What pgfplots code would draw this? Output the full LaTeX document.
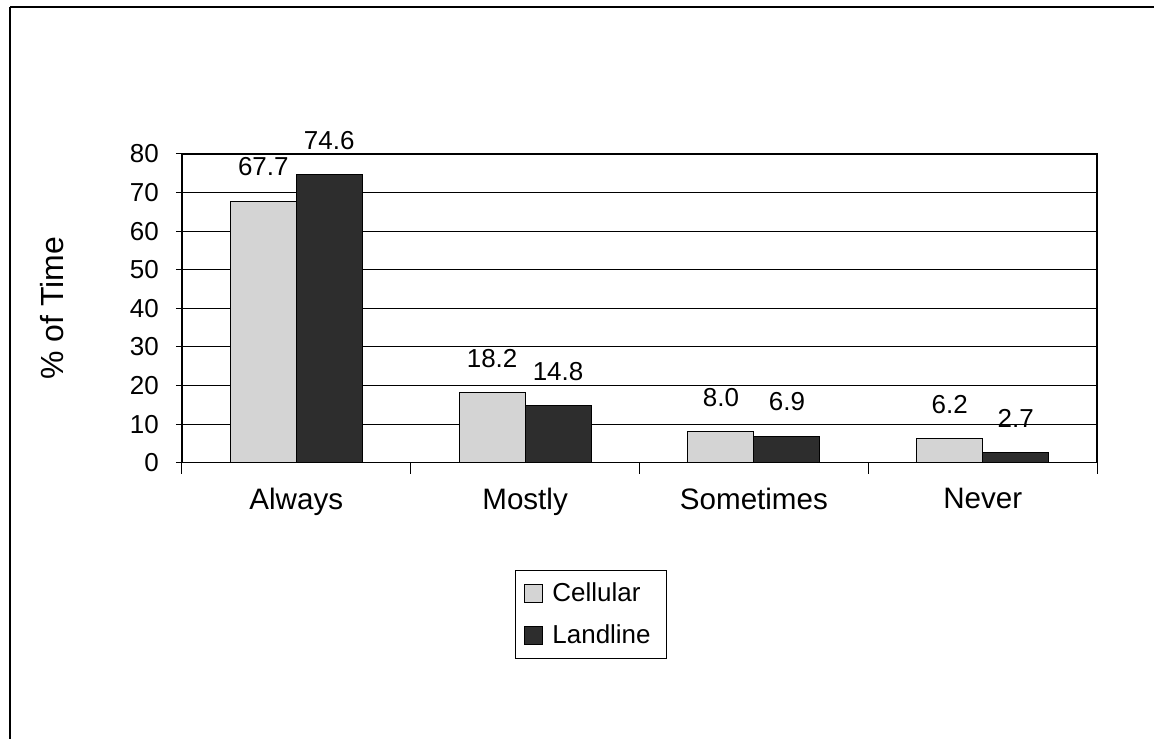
\documentclass[border=0pt]{standalone}
\usepackage{pgfplots}
\pgfplotsset{compat=1.18}
\usepackage{fontspec}
\setmainfont{Liberation Sans}
\definecolor{cellc}{RGB}{212,212,212}
\definecolor{landc}{RGB}{45,45,45}
\begin{document}
\begin{tikzpicture}
\path[fill=white] (0pt,0pt) rectangle (577.5pt,-370pt);
\draw[line width=0.9pt] (5pt,-3.5pt) -- (577.5pt,-3.5pt);
\draw[line width=0.9pt] (5pt,-3.5pt) -- (5pt,-370pt);
\begin{axis}[
  at={(91pt,-231.5pt)}, anchor=south west,
  width=458pt, height=154.5pt, scale only axis,
  xmin=-0.5, xmax=3.5, ymin=0, ymax=80,
  ytick={0,10,...,80},
  xtick={0,1,2,3},
  xticklabels={Always,Mostly,Sometimes,Never},
  minor xtick={-0.5,0.5,1.5,2.5,3.5},
  major x tick style={draw=none},
  minor tick length=5.5pt,
  major tick length=3pt,
  tick align=outside,
  tick pos=left,
  tick style={black, line width=0.5pt},
  ymajorgrids,
  grid style={black, line width=0.5pt},
  axis line style={black, line width=0.8pt},
  /pgf/number format/assume math mode=true,
  ticklabel style={font=\fontsize{13}{15}\selectfont},
  xticklabel style={font=\fontsize{14.8}{17}\selectfont, yshift=-6pt},
  yticklabel style={xshift=-5pt},
  ylabel={\% of Time},
  every axis y label/.style={at={(rel axis cs:0,0.5)}, xshift=-65pt, rotate=90, anchor=center, font=\fontsize{16}{18}\selectfont},
  ybar=0pt, bar width=33pt,
  nodes near coords,
  nodes near coords style={font=\fontsize{13}{15}\selectfont, yshift=9pt,
    /pgf/number format/.cd, fixed, fixed zerofill, precision=1, assume math mode=true},
  legend style={at={(0.447,-0.492)}, anchor=center, draw=black, line width=0.6pt,
    font=\fontsize{13}{15}\selectfont, row sep=6pt, inner xsep=4pt, inner ysep=4pt},
  legend cell align=left,
  legend image code/.code={\draw[#1, draw=black, line width=0.4pt] (0pt,-4.5pt) rectangle (9pt,4.5pt);},
]
\addplot[fill=cellc, draw=black, line width=0.5pt] coordinates {(0,67.7) (1,18.2) (2,8.0) (3,6.2)};
\addplot[fill=landc, draw=black, line width=0.5pt] coordinates {(0,74.6) (1,14.8) (2,6.9) (3,2.7)};
\legend{\makebox[54pt][l]{\hspace{3pt}Cellular},\makebox[54pt][l]{\hspace{3pt}Landline}}
\end{axis}
\end{tikzpicture}
\end{document}
